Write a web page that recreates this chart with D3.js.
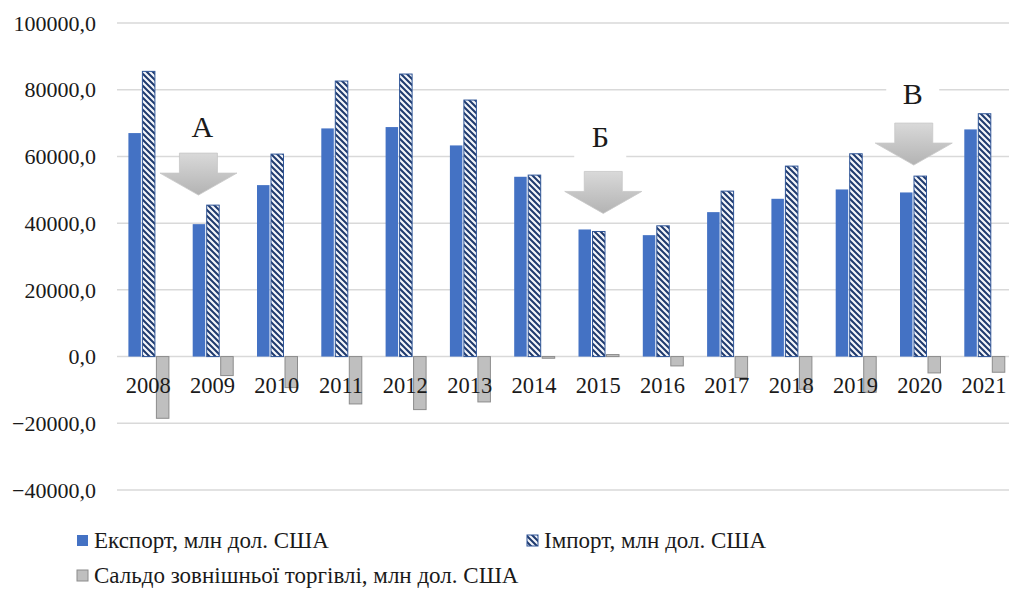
<!DOCTYPE html>
<html>
<head>
<meta charset="utf-8">
<script src="https://cdnjs.cloudflare.com/ajax/libs/d3/7.8.5/d3.min.js"></script>
<style>
body{margin:0;background:#fff;}
</style>
</head>
<body>
<div id="chart"></div>
<script>
// data
var years = ["2008","2009","2010","2011","2012","2013","2014","2015","2016","2017","2018","2019","2020","2021"];
var exportVals = [67000, 39700, 51400, 68400, 68800, 63300, 53900, 38100, 36400, 43300, 47300, 50100, 49200, 68100];
var importVals = [85500, 45400, 60700, 82600, 84700, 76900, 54400, 37500, 39200, 49600, 57100, 60800, 54100, 72800];
var saldoVals = [-18500, -5700, -9300, -14200, -15900, -13600, -500, 600, -2800, -6300, -9800, -10700, -4900, -4700];
var yTicks = [-40000, -20000, 0, 20000, 40000, 60000, 80000, 100000];
var seriesNames = ["Експорт, млн дол. США", "Імпорт, млн дол. США", "Сальдо зовнішньої торгівлі, млн дол. США"];
var noteLabels = ["А", "Б", "В"];
var noteYears = ["2009", "2015", "2020"];

var width = 1009, height = 592;
var svg = d3.select("#chart").append("svg")
    .attr("width", width)
    .attr("height", height)
    .attr("font-family", "'Liberation Serif', 'Times New Roman', 'DejaVu Serif', serif")
    .attr("fill", "#1a1a1a");

var defs = svg.append("defs");
// import hatch
var pat = defs.append("pattern")
    .attr("id", "hatch")
    .attr("patternUnits", "userSpaceOnUse")
    .attr("width", 6).attr("height", 6);
pat.append("rect").attr("width", 6).attr("height", 6).attr("fill", "#1f3a6e");
pat.append("path")
    .attr("d", "M0,0L6,6M-3,3L3,9M3,-3L9,3")
    .attr("stroke", "#f4f6fa").attr("stroke-width", 2.2);

var grad = defs.append("linearGradient")
    .attr("id", "arrowGrad")
    .attr("x1", 0).attr("y1", 0).attr("x2", 0).attr("y2", 1);
grad.append("stop").attr("offset", "0%").attr("stop-color", "#d9d9d9");
grad.append("stop").attr("offset", "100%").attr("stop-color", "#b3b3b3");

// scales
var x = d3.scaleBand()
    .domain(years)
    .range([116, 116 + 14 * 64.3]);

var y = d3.scaleLinear()
    .domain([-40000, 100000])
    .range([490, 23]);

// grid lines
svg.append("g")
    .selectAll("line")
    .data(yTicks)
    .enter()
    .append("line")
    .attr("x1", 117)
    .attr("x2", width)
    .attr("y1", function(d){ return y(d); })
    .attr("y2", function(d){ return y(d); })
    .attr("stroke", "#d9d9d9")
    .attr("stroke-width", 1.5);

// y labels
svg.append("g")
    .selectAll("text")
    .data(yTicks)
    .enter()
    .append("text")
    .attr("x", 96)
    .attr("y", function(d){ return y(d); })
    .attr("dy", "0.35em")
    .attr("text-anchor", "end")
    .style("font-size", "22px")
    .text(function(d){ return d3.format(".1f")(d).replace(".", ","); });

// bars
var barW = 12.5, gap = 1.5;
function barX(year, i){
    return x(year) + x.bandwidth() / 2 + 0.5 - (3 * barW + 2 * gap) / 2 + i * (barW + gap);
}

svg.append("g")
    .selectAll("rect")
    .data(exportVals)
    .enter()
    .append("rect")
    .attr("x", function(d, i){ return barX(years[i], 0); })
    .attr("y", function(d){ return y(d); })
    .attr("width", barW)
    .attr("height", function(d){ return y(0) - y(d); })
    .attr("fill", "#4472c4");

svg.append("g")
    .selectAll("rect")
    .data(importVals)
    .enter()
    .append("rect")
    .attr("x", function(d, i){ return barX(years[i], 1); })
    .attr("y", function(d){ return y(d); })
    .attr("width", barW)
    .attr("height", function(d){ return y(0) - y(d); })
    .attr("fill", "url(#hatch)")
    .attr("stroke", "#2f5597")
    .attr("stroke-width", 1);

svg.append("g")
    .selectAll("rect")
    .data(saldoVals)
    .enter()
    .append("rect")
    .attr("x", function(d, i){ return barX(years[i], 2); })
    .attr("y", function(d){ return y(Math.max(0, d)); })
    .attr("width", barW)
    .attr("height", function(d){ return Math.abs(y(0) - y(d)); })
    .attr("fill", "#bfbfbf")
    .attr("stroke", "#8c8c8c")
    .attr("stroke-width", 1);

// year labels
svg.append("g")
    .selectAll("text")
    .data(years)
    .enter()
    .append("text")
    .attr("x", function(d){ return x(d) + x.bandwidth() / 2; })
    .attr("y", 393)
    .attr("text-anchor", "middle")
    .style("font-size", "22.5px")
    .text(function(d){ return d; });

// annotations: label box + arrow
var noteDx = [-14, 5, -6];      // arrow tip shift from band centre
var arrowTop = [61000, 55500, 70000];
var labelDx = [-10, 2, -7];
var labelY = [137, 147, 104];
var boxW = [78, 52, 53];

noteLabels.forEach(function(lab, i){
    var cx = x(noteYears[i]) + x.bandwidth() / 2;
    var tipX = cx + noteDx[i];
    var lx = cx + labelDx[i];
    // white text box (hides gridline)
    svg.append("rect")
        .attr("x", lx - boxW[i] / 2)
        .attr("y", labelY[i] - 28)
        .attr("width", boxW[i])
        .attr("height", 46)
        .attr("fill", "#fff");
    svg.append("text")
        .attr("x", lx)
        .attr("y", labelY[i])
        .attr("text-anchor", "middle")
        .style("font-size", "30px")
        .text(lab);
    var t = y(arrowTop[i]);
    var sw = 19, hw = 38.5, sh = 20, hh = 22;
    var pts = [
        [tipX - sw, t], [tipX + sw, t], [tipX + sw, t + sh], [tipX + hw, t + sh],
        [tipX, t + sh + hh], [tipX - hw, t + sh], [tipX - sw, t + sh]
    ];
    svg.append("path")
        .attr("d", d3.line()(pts) + "Z")
        .attr("fill", "url(#arrowGrad)")
        .attr("stroke", "#c8c8c8")
        .attr("stroke-width", 0.8);
});

// legend
var legX = [77, 527, 77];
var legY = [548, 548, 583];
var legFill = ["#4472c4", "url(#hatch)", "#bfbfbf"];
var legStroke = ["none", "#2f5597", "#8c8c8c"];
seriesNames.forEach(function(name, i){
    svg.append("rect")
        .attr("x", legX[i])
        .attr("y", legY[i] - 13)
        .attr("width", 11)
        .attr("height", 11)
        .attr("fill", legFill[i])
        .attr("stroke", legStroke[i]);
    svg.append("text")
        .attr("x", legX[i] + 17)
        .attr("y", legY[i])
        .style("font-size", "23px")
        .text(name);
});
</script>
</body>
</html>
